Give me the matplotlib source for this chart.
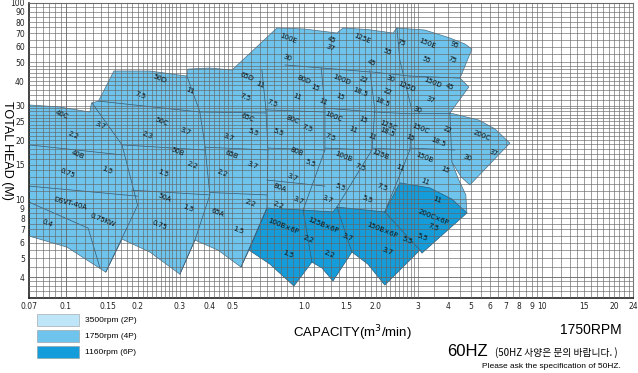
import matplotlib
matplotlib.use("Agg")
import matplotlib.pyplot as plt
from matplotlib.patches import Polygon, Rectangle
import numpy as np

# axis ticks
x_ticks = [0.07, 0.1, 0.15, 0.2, 0.3, 0.4, 0.5, 1.0, 1.5, 2.0, 3, 4, 5, 6, 7, 8, 9, 10, 15, 20, 24]
x_tick_labels = ['0.07', '0.1', '0.15', '0.2', '0.3', '0.4', '0.5', '1.0', '1.5', '2.0',
                 '3', '4', '5', '6', '7', '8', '9', '10', '15', '20', '24']
y_ticks = [4, 5, 6, 7, 8, 9, 10, 15, 20, 25, 30, 40, 50, 60, 70, 80, 90, 100]

# 1750rpm (4P) envelope, capacity m3/min / head m
env4p_q = [0.07, 0.094, 0.126, 0.128, 0.137, 0.159, 0.225, 0.322, 0.325, 0.402, 0.498,
           0.769, 1.0, 1.372, 1.456, 1.85, 2.36, 2.45, 3.21, 4.09, 4.73, 5.06, 4.51, 4.91,
           4.09, 5.41, 6.32, 7.3, 4.96, 4.55, 4.17, 4.42, 4.77, 4.82, 3.0, 2.2, 1.0, 0.75,
           0.587, 0.543, 0.435, 0.348, 0.301, 0.225, 0.172, 0.147, 0.101, 0.07]
env4p_h = [30.2, 29.5, 27.8, 30.9, 31.6, 45.0, 45.0, 42.4, 46.0, 46.6, 45.5,
           74.6, 73.7, 70.3, 74.6, 73.2, 70.3, 74.6, 72.8, 66.3, 61.8, 58.2, 41.4, 37.3,
           27.5, 25.3, 22.8, 19.3, 11.8, 13.0, 15.45, 12.8, 10.5, 8.49, 7.8, 7.4, 7.4, 7.4,
           5.49, 4.5, 5.49, 6.18, 4.14, 5.37, 6.25, 4.24, 5.69, 6.48]

# 1160rpm (6P) envelope
env6p_q = [0.698, 0.587, 0.718, 0.906, 1.078, 1.188, 1.321, 1.587, 1.85, 2.18, 3.06, 3.12,
           4.82, 4.17, 3.37, 2.52, 2.18, 1.372, 1.32, 0.99]
env6p_h = [9.0, 5.49, 4.66, 3.60, 4.77, 4.45, 3.82, 5.37, 4.66, 3.64, 5.49, 5.3,
           8.49, 10.0, 11.4, 12.1, 8.6, 9.1, 8.6, 8.79]

# tile boundaries inside the envelopes: (capacity list, head list)
tile_lines = [
    ([0.147, 0.2, 0.172, 0.1287], [4.24, 9.3, 18.9, 30.9]),
    ([0.301, 0.348, 0.402, 0.383, 0.365, 0.322], [4.14, 6.18, 10.5, 18.9, 27.8, 42.4]),
    ([0.543, 0.698, 0.705, 0.691, 0.665], [4.5, 9.0, 17.8, 28.5, 45.5]),
    ([0.99, 1.222, 1.222, 1.18], [8.79, 17.8, 29.1, 46.6]),
    ([1.372, 1.925, 1.98, 1.887], [9.1, 17.8, 28.5, 45.5]),
    ([2.18, 2.78, 2.83, 2.52, 2.45], [8.6, 17.8, 28.5, 51.2, 74.6]),
    ([4.17, 4.09], [15.45, 27.5]),
    ([0.07, 0.172], [18.9, 16.8]),
    ([0.07, 0.2], [11.65, 10.35]),
    ([0.137, 0.365], [31.6, 27.8]),
    ([0.172, 0.383], [18.9, 17.8]),
    ([0.189, 0.402], [11.1, 10.5]),
    ([0.365, 0.691], [27.8, 27.5]),
    ([0.383, 0.705], [18.4, 17.8]),
    ([0.402, 0.698], [10.8, 10.5]),
    ([0.691, 1.222], [28.5, 27.8]),
    ([0.705, 1.222], [18.2, 17.8]),
    ([0.698, 1.222], [12.5, 11.65]),
    ([0.831, 1.887], [48.3, 44.5]),
    ([1.925, 2.78], [44.5, 42.4]),
    ([2.78, 4.51], [42.4, 41.4]),
    ([1.222, 1.98], [29.1, 27.8]),
    ([1.98, 2.83], [27.8, 27.2]),
    ([2.83, 4.09], [27.5, 27.5]),
    ([1.222, 1.925], [18.2, 17.8]),
    ([1.925, 2.78], [18.2, 17.8]),
    ([2.78, 4.29], [18.2, 17.8]),
    ([0.07, 0.124, 0.139], [9.65, 7.11, 4.45]),
    ([0.99, 1.078], [8.79, 4.77]),
    ([1.372, 1.587], [9.1, 5.37]),
    ([2.18, 3.06], [8.6, 5.49]),
]

# model / motor kW labels
lab_txt = ['40C', '3.7', '2.2', '2.3', '50C', '3.7', '50D', '7.5', '11', '40B', '50B', '2.2',
           '0.75', '1.5', '1.5', 'DSVT-40A', '50A', '1.5', '0.4', '0.75KW', '0.75', '65A',
           '1.5', '2.2', '65B', '3.7', '65C', '5.5', '3.7', '65D', '11', '7.5', '7.5', '11',
           '80D', '15', '11', '100E', '30', '45', '37', '125E', '55', '75', '45', '100D',
           '22', '18.5', '15', '30', '125D', '22', '18.5', '80C', '5.5', '7.5', '100C', '7.5',
           '11', '15', '11', '125C', '18.5', '15', '150C', '22', '18.5', '200C', '37', '30',
           '150D', '45', '37', '30', '150E', '95', '55', '75', '150B', '15', '11', '11',
           '200C×6P', '7.5', '5.5', '125B', '11', '7.5', '5.5', '100B', '7.5', '5.5', '80B',
           '5.5', '3.7', '80A', '3.7', '3.7', '2.2', '100B×6P', '2.2', '1.5', '125B×6P',
           '3.7', '2.2', '150B×6P', '5.5', '3.7', '2.2']
lab_q = [0.0963, 0.139, 0.107, 0.219, 0.253, 0.316, 0.248, 0.205, 0.332, 0.112, 0.295, 0.338,
         0.102, 0.149, 0.2555, 0.104, 0.260, 0.325, 0.0833, 0.143, 0.248, 0.431,
         0.527, 0.452, 0.498, 0.604, 0.581, 0.610, 0.479, 0.575, 0.652, 0.564, 0.732, 0.933,
         1.0, 1.11, 1.2, 0.855, 0.85, 1.308, 1.282, 1.748, 2.226, 2.55, 1.925, 1.441,
         1.764, 1.713, 1.412, 2.31, 2.70, 2.226, 2.12, 0.897, 0.776, 1.028, 1.321, 1.282,
         1.60, 1.764, 1.925, 2.25, 2.226, 2.78, 3.06, 3.97, 3.64, 5.57, 6.2, 4.82,
         3.47, 4.09, 3.37, 2.975, 3.27, 4.29, 3.27, 4.17, 3.21, 3.9, 3.21, 3.61,
         3.47, 3.47, 3.12, 2.08, 2.52, 2.12, 1.834, 1.456, 1.713, 1.412, 0.933,
         1.057, 0.889, 0.791, 0.942, 1.246, 0.776, 0.815, 1.037, 0.855, 1.2,
         1.512, 1.282, 2.12, 2.70, 2.226, 0.592]
lab_h = [26.8, 23.8, 21.2, 21.2, 24.7, 22.2, 41.0, 33.9, 35.6, 16.8, 17.4, 14.9,
         13.6, 14.1, 13.6, 9.54, 10.2, 8.99, 7.54, 7.81, 7.37, 8.49,
         6.95, 13.6, 16.8, 14.9, 25.9, 22.0, 20.7, 42.0, 38.2, 33.1, 30.9, 33.1,
         40.5, 36.8, 31.3, 66.3, 52.4, 64.7, 58.9, 66.3, 56.2, 62.5, 49.4, 40.5,
         40.5, 35.2, 33.1, 41.0, 37.3, 35.2, 31.3, 25.3, 22.0, 23.0, 26.2, 20.7,
         22.5, 25.3, 20.7, 23.8, 22.0, 20.5, 23.0, 22.5, 19.5, 21.2, 17.2, 16.2,
         39.1, 37.3, 32.0, 28.5, 62.5, 61.1, 51.2, 51.2, 16.2, 14.1, 12.2, 9.9,
         8.09, 7.2, 6.4, 16.8, 14.4, 11.5, 10.0, 16.4, 14.6, 11.5, 17.4,
         15.3, 12.9, 11.4, 9.9, 10.0, 9.32, 7.28, 6.25, 5.24, 7.37,
         6.4, 5.24, 6.95, 6.18, 5.43, 9.54]

# grid
grid_x = np.concatenate([np.arange(0.075, 0.1, 0.005), np.arange(0.1, 0.3, 0.01),
                         np.arange(0.3, 0.5, 0.02), np.arange(0.5, 1.0, 0.05),
                         np.arange(1.0, 3.0, 0.1), np.arange(3.0, 10.0, 0.5),
                         np.arange(10, 24, 1.0)])
grid_y = np.concatenate([np.arange(3.4, 4.0, 0.2), np.arange(4.0, 10.0, 0.5),
                         np.arange(10, 30, 1.0), np.arange(30, 50, 2.0),
                         np.arange(50, 101, 5.0)])

fig = plt.figure(figsize=(6.38, 3.73), dpi=100)
ax = fig.add_axes([29 / 638, 1 - 298 / 373, 604 / 638, 295 / 373])
ax.set_xscale('log')
ax.set_yscale('log')
ax.set_xlim(0.07, 24)
ax.set_ylim(3.13, 100)

c2p = '#bfe6f8'
c4p = '#6ec4ec'
c6p = '#149dda'

ax.add_patch(Polygon(np.column_stack([env4p_q, env4p_h]), closed=True, fc=c4p,
                     ec='#4a6f88', lw=0.5, zorder=1))
ax.add_patch(Polygon(np.column_stack([env6p_q, env6p_h]), closed=True, fc=c6p,
                     ec='#2a5a7a', lw=0.5, zorder=2))
for lq, lh in tile_lines:
    ax.plot(lq, lh, color='#34556e', lw=0.5, zorder=2.5)

for gx in grid_x:
    ax.axvline(gx, color='#666666', lw=0.45, zorder=3)
for gy in grid_y:
    ax.axhline(gy, color='#666666', lw=0.45, zorder=3)

for t, q, h in zip(lab_txt, lab_q, lab_h):
    rot = -15 if t == 'DSVT-40A' else -22
    ax.text(q, h, t, fontsize=5, rotation=rot, ha='center', va='center', zorder=5,
            color='#111111', rotation_mode='anchor')

ax.set_xticks(x_ticks)
ax.set_xticklabels(x_tick_labels)
ax.set_yticks(y_ticks)
ax.set_yticklabels([str(v) for v in y_ticks])
ax.minorticks_off()
ax.tick_params(length=0, labelsize=5.5, pad=3, colors='#222222')
for s in ['top', 'right']:
    ax.spines[s].set_color('#777777')
    ax.spines[s].set_linewidth(0.8)
for s in ['left', 'bottom']:
    ax.spines[s].set_color('#222222')
    ax.spines[s].set_linewidth(1.2)

fig.text(7 / 638, 1 - 150 / 373, 'TOTAL HEAD (M)', rotation=270, ha='center', va='center',
         fontsize=9, family=['Liberation Sans', 'DejaVu Sans'])

# legend
leg_txt = ['3500rpm (2P)', '1750rpm (4P)', '1160rpm (6P)']
leg_col = [c2p, c4p, c6p]
for i, (t, c) in enumerate(zip(leg_txt, leg_col)):
    y0 = 314 + i * 16
    fig.patches.append(Rectangle((37 / 638, 1 - (y0 + 12) / 373), 42 / 638, 12 / 373,
                                 transform=fig.transFigure, fc=c, ec='#999999', lw=0.4))
    fig.text(85 / 638, 1 - (y0 + 6) / 373, t, fontsize=6, va='center',
             family=['Liberation Sans Narrow', 'Liberation Sans', 'DejaVu Sans'])

narrow = ['Liberation Sans Narrow', 'Liberation Sans', 'DejaVu Sans']
fig.text(352 / 638, 1 - 333 / 373, 'CAPACITY(m$^3$/min)', ha='center', va='center',
         fontsize=9.5, family=narrow)
fig.text(622 / 638, 1 - 330 / 373, '1750RPM', ha='right', va='center', fontsize=10,
         family=narrow)
fig.text(447 / 638, 1 - 352 / 373, '60HZ', ha='left', va='center', fontsize=12,
         family=narrow)
fig.text(495 / 638, 1 - 353 / 373, '(50HZ 사양은 문의 바랍니다. )', ha='left', va='center',
         fontsize=7, family=['Liberation Sans Narrow', 'Noto Sans CJK KR'])
fig.text(621 / 638, 1 - 367 / 373, 'Please ask the specification of 50HZ.', ha='right',
         va='center', fontsize=6, family=narrow)

fig.savefig('out.png', dpi=100)
